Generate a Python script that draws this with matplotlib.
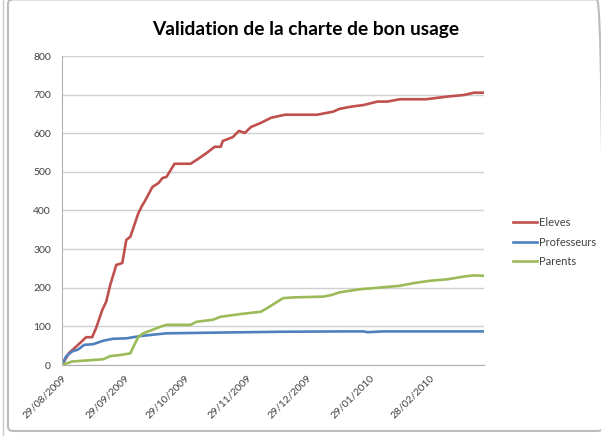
import numpy as np
import pandas as pd
import matplotlib
matplotlib.use('Agg')
import matplotlib.pyplot as plt
from matplotlib.patches import FancyBboxPatch

plt.rcParams['font.family'] = ['Lato', 'DejaVu Sans']

# jours depuis le 29/08/2009
debut = pd.Timestamp('2009-08-29')

eleves_j = [0, 3.5, 9, 12, 15, 17, 20, 22, 24, 27, 30, 32, 34, 38, 40, 41, 45, 48, 50, 52,
            56, 64, 67, 72, 76, 79, 80, 85, 88, 91, 94, 99, 104, 111, 127, 135, 138, 144,
            150, 157, 162, 168, 181, 192, 200, 205, 210]
eleves_v = [0, 31, 57, 72, 72, 96, 142, 164, 207, 259, 264, 324, 332, 393, 414, 422, 461, 471,
            484, 487, 521, 521, 531, 549, 565, 565, 580, 590, 606, 601, 616, 627, 640, 648, 648,
            656, 663, 669, 673, 682, 682, 688, 688, 695, 699, 705, 705]

profs_j = [0, 2, 5, 8, 11, 15.6, 20.6, 25.6, 32, 39, 52, 79, 108, 140, 150, 152, 160, 210]
profs_v = [0, 22, 35, 40, 52, 54, 63, 68, 69, 75, 82, 84, 86, 87, 87, 85, 87, 87]

parents_j = [0, 5, 15.6, 20.6, 24, 29, 34, 35.5, 38, 40.5, 45, 49, 52, 64, 67, 75, 79, 89, 94,
             99, 102, 106, 110, 115, 130, 134, 138, 148, 157, 168, 175, 183, 192, 200, 205, 210]
parents_v = [0, 9, 13, 15, 23, 26, 30, 47, 73, 82, 91, 99, 104, 104, 112, 117, 125, 132, 135,
             138, 147, 160, 173, 175, 177, 181, 188, 196, 200, 205, 212, 218, 222, 229, 232, 231]

series = [('Eleves', eleves_j, eleves_v, '#C0504D'),
          ('Professeurs', profs_j, profs_v, '#4F81BD'),
          ('Parents', parents_j, parents_v, '#9BBB59')]

tick_dates = ['2009-08-29', '2009-09-29', '2009-10-29', '2009-11-29',
              '2009-12-29', '2010-01-29', '2010-02-28']

fig = plt.figure(figsize=(6.01, 4.36), dpi=100)
ax = fig.add_axes([62/601, 71/436, 422/601, 309/436])

for nom, j, v, c in series:
    x = debut + pd.to_timedelta(np.array(j), unit='D')
    ax.plot(x, v, color=c, lw=1.9, label=nom)

ax.set_xlim(debut, debut + pd.Timedelta(days=210))
ax.set_ylim(0, 800)
ax.set_yticks(range(0, 801, 100))
ax.yaxis.grid(True, color='#d0d0d0', lw=1)
ax.set_axisbelow(True)

ticks = pd.to_datetime(tick_dates)
ax.set_xticks(ticks)
ax.set_xticklabels([t.strftime('%d/%m/%Y') for t in ticks], rotation=45,
                   ha='right', rotation_mode='anchor')
ax.tick_params(axis='both', labelsize=7.5, colors='#404040', length=0, pad=6)
ax.tick_params(axis='y', pad=8)

for s in ['top', 'right']:
    ax.spines[s].set_visible(False)
for s in ['left', 'bottom']:
    ax.spines[s].set_color('#b0b0b0')

fig.text(306/601, 1 - 29/436, 'Validation de la charte de bon usage',
         ha='center', va='center', fontsize=13.8, fontweight='bold', color='black')

leg = fig.legend(loc='center left', bbox_to_anchor=(503/601, 1 - 242/436), frameon=False,
                 fontsize=8, handlelength=2.2, handletextpad=0.1, labelspacing=0.8,
                 labelcolor='#404040')

# cadre du graphique
fig.patches.append(FancyBboxPatch((8/601, 5/436), 0.99, 0.99, boxstyle='round,pad=0,rounding_size=0.01',
                                  transform=fig.transFigure, fill=False, ec='#bcbcbc', lw=1.5))
fig.add_artist(plt.Line2D([3/601, 3/601], [0, 1], transform=fig.transFigure, color='#c8c8c8', lw=1))

fig.savefig('out.png', dpi=100)
